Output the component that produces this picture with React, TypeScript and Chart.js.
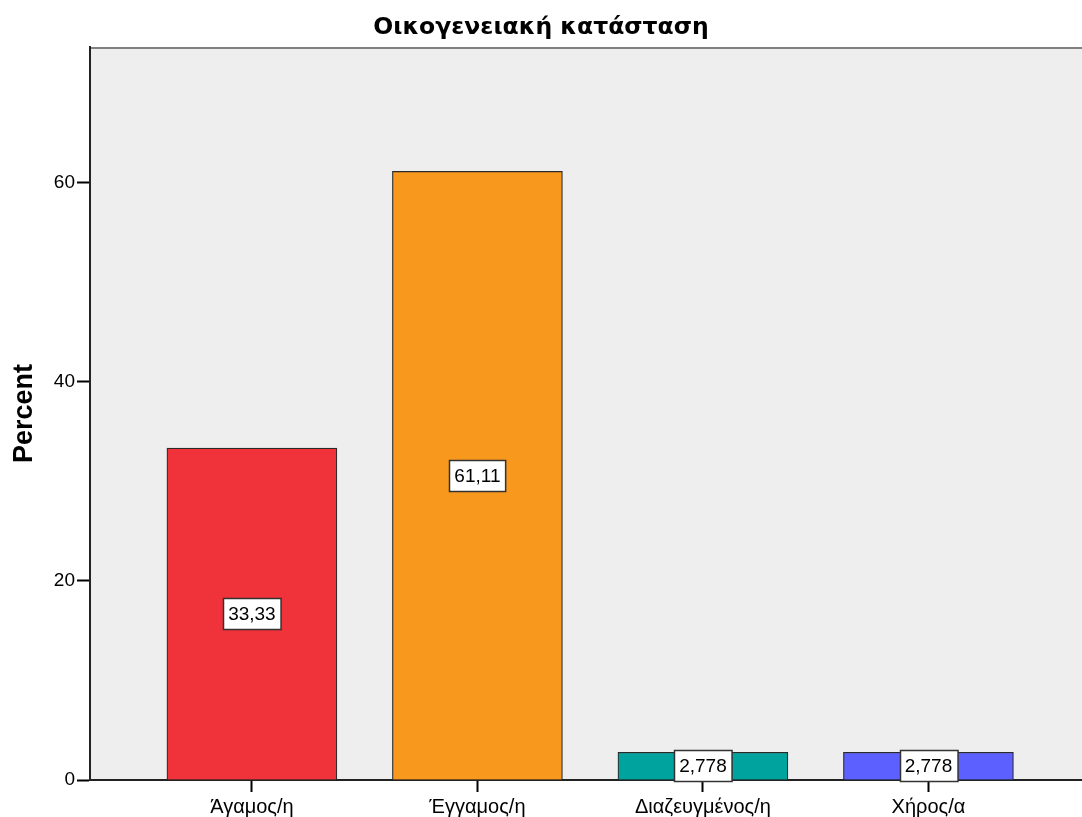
import React, { useEffect, useRef } from "react";
import { Chart, registerables } from "chart.js";

Chart.register(...registerables);

const TITLE = "Οικογενειακή κατάσταση";
const Y_TITLE = "Percent";
const categories = ["Άγαμος/η", "Έγγαμος/η", "Διαζευγμένος/η", "Χήρος/α"];
const percentValues = [33.33, 61.11, 2.778, 2.778];
const valueLabels = ["33,33", "61,11", "2,778", "2,778"];
const barColors = ["rgb(240,50,58)", "rgb(248,152,29)", "rgb(0,163,158)", "rgb(92,96,255)"];
const yTicks = [0, 20, 40, 60];
const xTicks = [0, 1, 2, 3];

const FONT = "'Liberation Sans', Arial, sans-serif";
const TITLE_FONT = "'DejaVu Sans', 'Liberation Sans', sans-serif";

const bgPlugin = {
  id: "plotBg",
  beforeDraw(chart: any) {
    const { ctx, chartArea } = chart;
    if (!chartArea) return;
    ctx.save();
    ctx.fillStyle = "#eeeeee";
    ctx.fillRect(chartArea.left, chartArea.top, chartArea.right - chartArea.left, chartArea.bottom - chartArea.top);
    ctx.fillStyle = "#808080";
    ctx.fillRect(chartArea.left, chartArea.top, chartArea.right - chartArea.left, 2);
    ctx.restore();
  },
};

const labelPlugin = {
  id: "valueBoxes",
  afterDatasetsDraw(chart: any) {
    const { ctx } = chart;
    const meta = chart.getDatasetMeta(0);
    ctx.save();
    ctx.font = `19px ${FONT}`;
    ctx.textAlign = "center";
    ctx.textBaseline = "middle";
    meta.data.forEach((bar: any, i: number) => {
      const text = valueLabels[i];
      const cx = bar.x;
      const cy = (bar.y + bar.base) / 2;
      const w = ctx.measureText(text).width + 10;
      const h = 31;
      const x0 = Math.round(cx - w / 2) + 0.5;
      const y0 = Math.round(cy - h / 2) + 0.5;
      ctx.fillStyle = "#ffffff";
      ctx.fillRect(x0, y0, w, h);
      ctx.strokeStyle = "#333333";
      ctx.lineWidth = 1.5;
      ctx.strokeRect(x0, y0, w, h);
      ctx.fillStyle = "#000000";
      ctx.fillText(text, cx, cy + 1);
    });
    ctx.restore();
  },
};

export default function App() {
  const ref = useRef<HTMLCanvasElement | null>(null);
  useEffect(() => {
    if (!ref.current) return;
    const chart = new Chart(ref.current, {
      type: "bar",
      data: {
        datasets: [
          {
            data: percentValues.map((v, i) => ({ x: xTicks[i], y: v })),
            backgroundColor: barColors,
            borderColor: "#2a2a2a",
            borderWidth: 1.2,
            barThickness: 170,
          },
        ],
      },
      options: {
        animation: false,
        responsive: false,
        devicePixelRatio: 1,
        layout: { padding: { left: 0, right: 0, top: 0, bottom: 0 } },
        plugins: {
          legend: { display: false },
          tooltip: { enabled: false },
          title: {
            display: true,
            text: TITLE,
            color: "#000",
            font: { family: TITLE_FONT, size: 23.5, weight: "bold", lineHeight: 1.2 },
            padding: { top: 14, bottom: 4.8 },
          },
        },
        scales: {
          x: {
            type: "linear",
            offset: false,
            min: -0.718,
            max: 3.681,
            afterBuildTicks: (s: any) => {
              s.ticks = xTicks.map((v) => ({ value: v }));
            },
            grid: { offset: false, drawOnChartArea: false, tickLength: 12, tickColor: "#000", tickWidth: 2 },
            border: { display: true, color: "#222", width: 2 },
            ticks: {
              autoSkip: false,
              maxRotation: 0,
              padding: 3,
              color: "#000",
              font: { family: FONT, size: 20 },
              callback: (v: any) => categories[v] ?? "",
            },
            afterFit: (s: any) => {
              s.height = 37;
            },
          },
          y: {
            min: 0,
            max: 73.6,
            afterBuildTicks: (s: any) => {
              s.ticks = yTicks.map((v) => ({ value: v }));
            },
            grid: { drawOnChartArea: false, tickLength: 13, tickColor: "#000", tickWidth: 2 },
            border: { display: true, color: "#222", width: 2 },
            ticks: {
              padding: 2,
              color: "#000",
              font: { family: FONT, size: 19 },
            },
            title: {
              display: true,
              text: Y_TITLE,
              color: "#000",
              font: { family: FONT, size: 27, weight: "bold", lineHeight: 1.2 },
              padding: { top: 8, bottom: 0 },
            },
            afterFit: (s: any) => {
              s.width = 90;
            },
          },
        },
      },
      plugins: [bgPlugin, labelPlugin],
    });
    return () => chart.destroy();
  }, []);
  return (
    <div style={{ position: "absolute", left: 0, top: 0, width: 1082, height: 817, background: "#fff" }}>
      <canvas ref={ref} width={1082} height={817} style={{ display: "block" }} />
    </div>
  );
}
